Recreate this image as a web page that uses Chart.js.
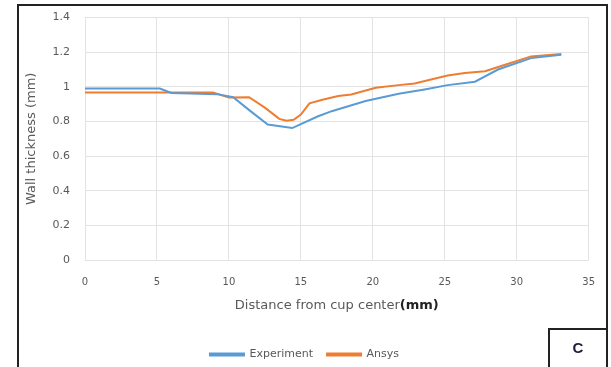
<!DOCTYPE html>
<html>
<head>
<meta charset="utf-8">
<script src="https://cdn.jsdelivr.net/npm/chart.js@4.4.1/dist/chart.umd.min.js"></script>
<style>
  html, body { margin: 0; padding: 0; background: #fff; overflow: hidden; }
  #wrap { position: relative; width: 611px; height: 367px; overflow: hidden; }
  #frame { position: absolute; left: 17px; top: 4px; width: 587px; height: 362px; border: 2px solid #222; border-bottom: none; box-sizing: content-box; }
  #cbox { position: absolute; left: 548px; top: 328px; width: 56px; height: 40px; border-left: 2px solid #222; border-top: 2px solid #222;
          font: bold 15px "Liberation Sans", Arial, sans-serif; color: #1c1c3a; text-align: center; line-height: 36px; }
  canvas { position: absolute; left: 0; top: -4px; }
</style>
</head>
<body>
<div id="wrap">
  <canvas id="c" width="611" height="375"></canvas>
  <div id="frame"></div>
  <div id="cbox">C</div>
</div>
<script>
// distance from cup center (mm) / wall thickness (mm)
const expX = [0, 5.2, 6.0, 9.2, 10.3, 11.5, 12.7, 14.4, 15.0, 16.2, 17.2, 19.5, 21.8, 23.6, 25.2, 27.1, 28.7, 31.0, 33.1];
const expY = [0.99, 0.99, 0.965, 0.958, 0.94, 0.86, 0.783, 0.762, 0.785, 0.83, 0.861, 0.918, 0.96, 0.985, 1.01, 1.03, 1.10, 1.166, 1.186];
const ansX = [0, 8.9, 10.0, 11.4, 12.5, 13.5, 14.0, 14.5, 15.0, 15.6, 16.5, 17.6, 18.5, 20.2, 21.8, 22.9, 25.2, 26.4, 27.8, 29.2, 31.0, 33.1];
const ansY = [0.967, 0.967, 0.938, 0.94, 0.88, 0.815, 0.805, 0.81, 0.84, 0.905, 0.925, 0.947, 0.956, 0.995, 1.01, 1.02, 1.065, 1.08, 1.09, 1.128, 1.176, 1.19];
const xTicks = [0, 5, 10, 15, 20, 25, 30, 35];
const yTicks = [0, 0.2, 0.4, 0.6, 0.8, 1, 1.2, 1.4];

const grey = '#595959';
const fontFam = '"DejaVu Sans", sans-serif';

function pts(xs, ys) {
  return xs.map((x, i) => ({ x: x, y: ys[i] }));
}

// x axis title with bold "(mm)"
const xTitle = {
  id: 'xTitle',
  afterDraw(chart) {
    const ctx = chart.ctx;
    const a = 'Distance from cup center';
    const b = '(mm)';
    ctx.save();
    ctx.textBaseline = 'middle';
    ctx.font = '13px ' + fontFam;
    const wa = ctx.measureText(a).width;
    ctx.font = 'bold 13px ' + fontFam;
    const wb = ctx.measureText(b).width;
    const cx = (chart.chartArea.left + chart.chartArea.right) / 2;
    const x0 = cx - (wa + wb) / 2;
    const y = chart.chartArea.bottom + 46;
    ctx.font = '13px ' + fontFam;
    ctx.fillStyle = grey;
    ctx.fillText(a, x0, y);
    ctx.font = 'bold 13px ' + fontFam;
    ctx.fillStyle = '#222';
    ctx.fillText(b, x0 + wa, y);
    ctx.restore();
  }
};

new Chart(document.getElementById('c'), {
  type: 'line',
  data: {
    datasets: [
      { label: 'Experiment', data: pts(expX, expY), borderColor: '#5B9BD5', backgroundColor: '#5B9BD5', borderWidth: 2, pointRadius: 0, tension: 0 },
      { label: 'Ansys', data: pts(ansX, ansY), borderColor: '#ED7D31', backgroundColor: '#ED7D31', borderWidth: 2, pointRadius: 0, tension: 0 }
    ]
  },
  options: {
    responsive: false,
    animation: false,
    layout: { padding: { left: 18, top: 7, right: 20, bottom: 1 } },
    plugins: {
      legend: {
        position: 'bottom',
        labels: { boxWidth: 34, boxHeight: 2, color: grey, font: { size: 11, family: fontFam }, padding: 14 }
      },
      tooltip: { enabled: false }
    },
    scales: {
      x: {
        type: 'linear',
        min: 0, max: 35,
        afterBuildTicks(s) { s.ticks = xTicks.map(v => ({ value: v })); },
        afterFit(s) { s.height = 75; },
        grid: { color: '#e3e3e3', drawTicks: false },
        border: { display: false },
        ticks: { color: grey, padding: 16, font: { size: 10, family: fontFam }, maxRotation: 0 }
      },
      y: {
        min: 0, max: 1.4,
        afterBuildTicks(s) { s.ticks = yTicks.map(v => ({ value: v })); },
        afterFit(s) { s.width = 67; },
        grid: { color: '#e3e3e3', drawTicks: false },
        border: { display: false },
        ticks: { color: grey, padding: 15, font: { size: 11, family: fontFam }, callback: v => String(Math.round(v * 10) / 10) },
        title: { display: true, text: 'Wall thickness (mm)', color: grey, font: { size: 13, family: fontFam }, padding: { top: 6, bottom: 0 } }
      }
    }
  },
  plugins: [xTitle]
});
</script>
</body>
</html>
